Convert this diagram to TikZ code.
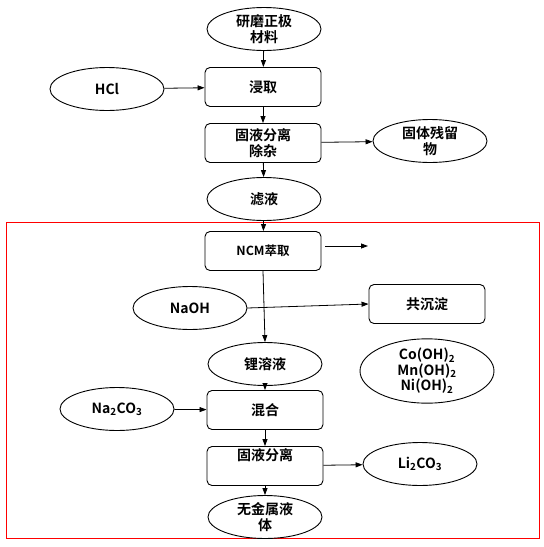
\documentclass[tikz,border=0pt]{standalone}
\usepackage{fontspec}
\setmainfont{Noto Sans CJK SC}[BoldFont={Noto Sans CJK SC Bold}]
\usetikzlibrary{shapes.geometric,arrows.meta}
\begin{document}
\begin{tikzpicture}[x=1pt,y=-1pt,
    every node/.style={font=\fontsize{14}{15.5}\selectfont\bfseries,align=center},
    oval/.style={draw,ellipse,line width=0.9pt,minimum width=114pt,minimum height=43pt,inner sep=0pt},
    stepbox/.style={draw,rounded corners=5pt,line width=0.9pt,minimum width=116pt,minimum height=39pt,inner sep=0pt},
    arr/.style={-{Triangle[length=7pt,width=5pt]},line width=0.8pt}]
  \useasboundingbox (0,0) rectangle (544,547);
  \draw[red,line width=0.8pt] (6,222) rectangle (539,538);
  % upper part
  \node[oval] (raw) at (264,29) {研磨正极\\材料};
  \node[stepbox] (leach) at (263,87) {浸取};
  \node[oval] (hcl) at (107,89) {HCl};
  \node[stepbox] (sep1) at (263,143) {固液分离\\除杂};
  \node[oval] (res) at (430,141) {固体残留\\物};
  \node[oval] (filt) at (264,199) {滤液};
  % lower part
  \node[stepbox] (ncm) at (263,251) {\fontsize{12.5}{14}\selectfont NCM萃取};
  \coordinate (ncma) at (325,246);
  \coordinate (ncmb) at (368,246);
  \node[oval] (naoh) at (190,308) {NaOH};
  \node[stepbox] (copre) at (427,304) {共沉淀};
  \node[oval] (lisol) at (265,364) {锂溶液};
  \node[oval,minimum width=134pt,minimum height=57pt] (hydr) at (427,371)
    {\fontsize{14}{15}\selectfont Co(OH)\textsubscript{2}\\Mn(OH)\textsubscript{2}\\Ni(OH)\textsubscript{2}};
  \node[oval] (naco) at (117,409) {Na\textsubscript{2}CO\textsubscript{3}};
  \node[stepbox] (mix) at (265,410) {混合};
  \node[stepbox,text height=10pt,text depth=21pt] (sep2) at (265,466) {固液分离};
  \node[oval] (lico) at (420,464) {Li\textsubscript{2}CO\textsubscript{3}};
  \node[oval] (rest) at (265,517) {无金属液\\体};
  % arrows
  \draw[arr] (raw) -- (leach);
  \draw[arr] (hcl) -- (leach);
  \draw[arr] (leach) -- (sep1);
  \draw[arr] (sep1) -- (res);
  \draw[arr] (sep1) -- (filt);
  \draw[arr] (filt) -- (ncm);
  \draw[arr] (ncma) -- (ncmb);
  \draw[arr] (naoh.east) -- (copre.west);
  \draw[arr] (ncm.south) -- (lisol.north);
  \draw[arr] (lisol) -- (mix);
  \draw[arr] (naco) -- (mix);
  \draw[arr] (mix) -- (sep2);
  \draw[arr] (sep2) -- (lico);
  \draw[arr] (sep2) -- (rest);
\end{tikzpicture}
\end{document}
